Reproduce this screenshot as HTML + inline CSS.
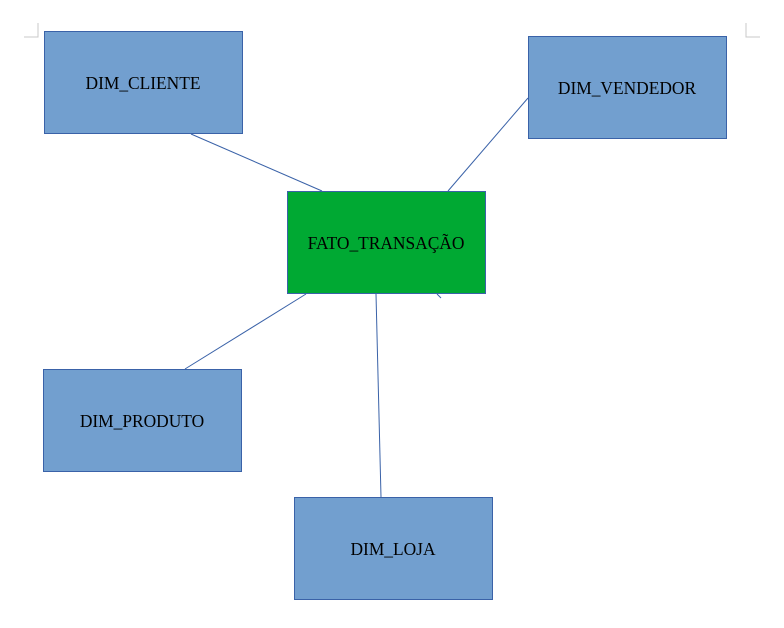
<!DOCTYPE html>
<html><head><meta charset="utf-8"><style>
html,body{margin:0;padding:0;background:#fff;width:784px;height:628px;overflow:hidden}
</style></head><body>
<svg width="784" height="628" xmlns="http://www.w3.org/2000/svg" font-family="Liberation Serif, serif" font-size="17.4">
<path d="M24 37H38V23" fill="none" stroke="#c8c8c8"/>
<path d="M746 23V37H760" fill="none" stroke="#c8c8c8"/>
<g stroke="#3a62a8" stroke-width="1">
<line x1="191" y1="134" x2="322" y2="191"/>
<line x1="528" y1="98" x2="448" y2="191"/>
<line x1="306" y1="294" x2="185" y2="369"/>
<line x1="376" y1="294" x2="381" y2="497"/>
<line x1="437" y1="294" x2="441" y2="298"/>
</g>
<g stroke="#3a62a8" stroke-width="1" fill="#729fcf">
<rect x="44.5" y="31.5" width="198" height="102"/>
<rect x="528.5" y="36.5" width="198" height="102"/>
<rect x="43.5" y="369.5" width="198" height="102"/>
<rect x="294.5" y="497.5" width="198" height="102"/>
</g>
<rect x="287.5" y="191.5" width="198" height="102" fill="#00a933" stroke="#3a62a8"/>
<g text-anchor="middle" fill="#000">
<text x="143" y="89">DIM_CLIENTE</text>
<text x="627" y="94">DIM_VENDEDOR</text>
<text x="386" y="249">FATO_TRANSAÇÃO</text>
<text x="142" y="427">DIM_PRODUTO</text>
<text x="393" y="555">DIM_LOJA</text>
</g>
</svg>
</body></html>
